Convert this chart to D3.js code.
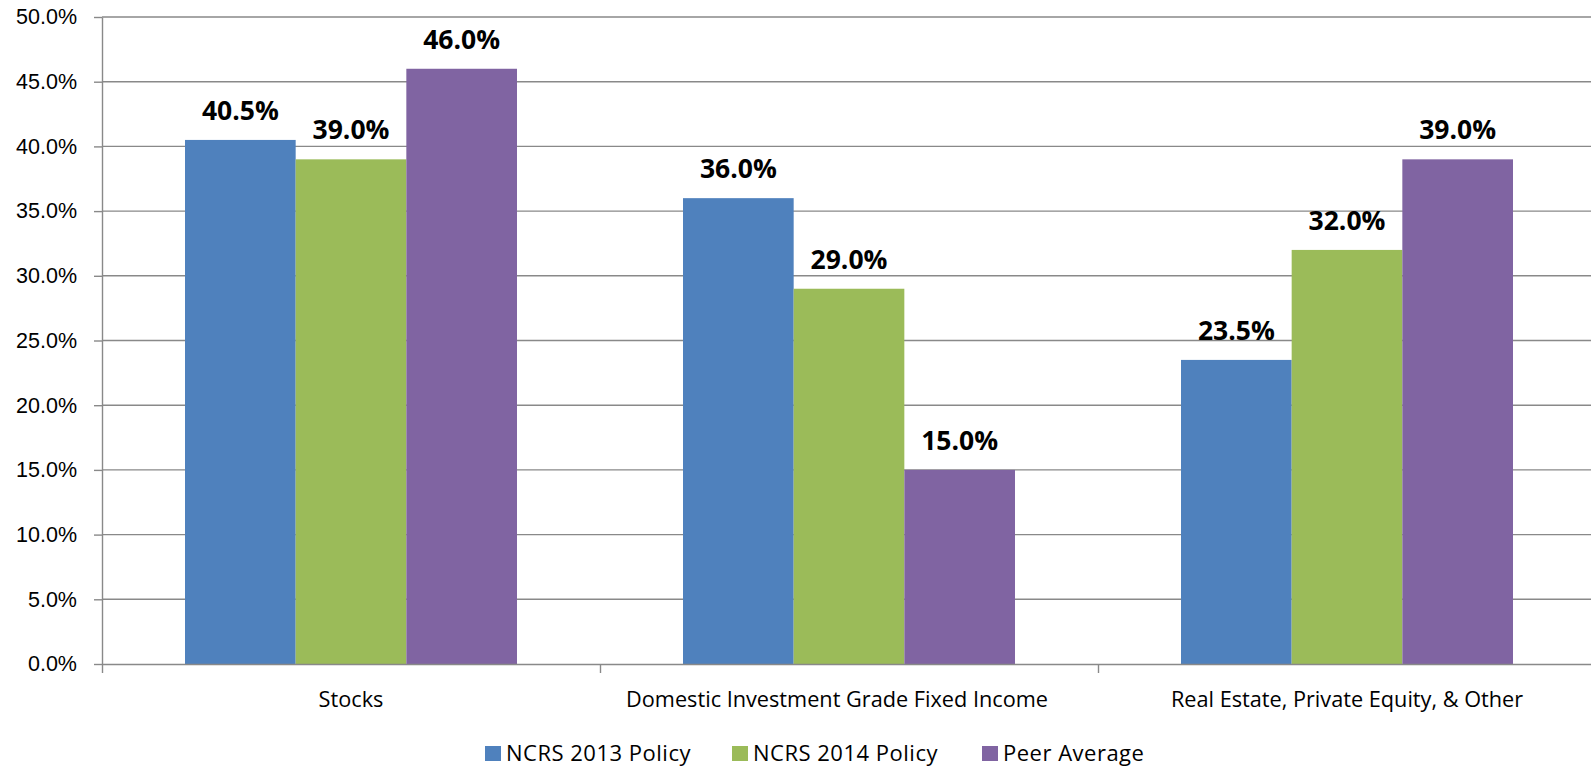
<!DOCTYPE html>
<html>
<head>
<meta charset="utf-8">
<script src="https://cdn.jsdelivr.net/npm/d3@7"></script>
<style>
  html, body { margin: 0; padding: 0; background: #fff; }
  svg { display: block; font-family: 'Open Sans', sans-serif; }
</style>
</head>
<body>
<script>
// Data
const categories = ['Stocks', 'Domestic Investment Grade Fixed Income', 'Real Estate, Private Equity, & Other']
const seriesNames = ['NCRS 2013 Policy', 'NCRS 2014 Policy', 'Peer Average']
const seriesColors = ['#4F81BD', '#9BBB59', '#8064A2']
const policy2013 = [40.5, 36.0, 23.5]
const policy2014 = [39.0, 29.0, 32.0]
const peerAverage = [46.0, 15.0, 39.0]
const yTicks = [0, 5, 10, 15, 20, 25, 30, 35, 40, 45, 50]

const seriesValues = [policy2013, policy2014, peerAverage]

const width = 1591
const height = 768
const margins = { left: 102, right: -5, top: 17, bottom: 104 }
const gridColor = '#898989'

const svg = d3.select('body').append('svg')
  .attr('width', width)
  .attr('height', height)
  .attr('viewBox', [0, 0, width, height].join(' '))

// Scales
const x0 = d3.scaleBand()
  .domain(categories)
  .range([margins.left, width - margins.right])
  .paddingInner(1 / 3)
  .paddingOuter(1 / 6)

const x1 = d3.scaleBand()
  .domain(seriesNames)
  .range([0, x0.bandwidth()])

const xBounds = d3.scaleLinear()
  .domain([0, categories.length])
  .range([margins.left, width - margins.right])

const y = d3.scaleLinear()
  .domain([0, 50])
  .range([height - margins.bottom, margins.top])

// Gridlines
svg.append('g')
  .selectAll('line')
  .data(yTicks.filter(t => t > 0))
  .enter().append('line')
  .attr('x1', margins.left)
  .attr('x2', width)
  .attr('y1', d => y(d))
  .attr('y2', d => y(d))
  .attr('stroke', gridColor)
  .attr('stroke-width', 1.4)

// Y axis
const yAxis = svg.append('g')
  .attr('transform', `translate(${margins.left}, 0)`)
  .call(d3.axisLeft(y).tickValues(yTicks).tickSize(8).tickSizeOuter(0).tickPadding(17).tickFormat(d => d.toFixed(1) + '%'))
yAxis.select('.domain').attr('stroke', gridColor).attr('stroke-width', 1.4)
yAxis.selectAll('.tick line').attr('stroke', gridColor).attr('stroke-width', 1.4)
yAxis.selectAll('.tick text').attr('fill', '#000').style('font-size', '21.5px')

// Bars
const groups = svg.append('g')
  .selectAll('g')
  .data(categories)
  .enter().append('g')
  .attr('transform', d => `translate(${x0(d)}, 0)`)

groups.selectAll('rect')
  .data((d, i) => seriesNames.map((s, j) => ({ series: s, value: seriesValues[j][i], color: seriesColors[j] })))
  .enter().append('rect')
  .attr('x', d => x1(d.series))
  .attr('width', x1.bandwidth())
  .attr('y', d => y(d.value))
  .attr('height', d => y(0) - y(d.value))
  .attr('fill', d => d.color)

groups.selectAll('text')
  .data((d, i) => seriesNames.map((s, j) => ({ series: s, value: seriesValues[j][i] })))
  .enter().append('text')
  .attr('x', d => x1(d.series) + x1.bandwidth() / 2)
  .attr('y', d => y(d.value) - 20)
  .attr('text-anchor', 'middle')
  .attr('font-weight', 'bold')
  .style('font-size', '26.5px')
  .attr('fill', '#000')
  .text(d => d.value.toFixed(1) + '%')

// X axis
const xAxis = svg.append('g')
  .attr('transform', `translate(0, ${y(0)})`)
  .call(d3.axisBottom(xBounds).tickValues(d3.range(categories.length)).tickSize(9).tickSizeOuter(0).tickFormat(''))
xAxis.select('.domain').attr('stroke', gridColor).attr('stroke-width', 1.4)
xAxis.selectAll('.tick line').attr('stroke', gridColor).attr('stroke-width', 1.4)

// the long middle label sits a little left of its band in the original
svg.append('g')
  .selectAll('text')
  .data(categories)
  .enter().append('text')
  .attr('x', (d, i) => x0(d) + x0.bandwidth() / 2 + (i === 1 ? -12 : 0))
  .attr('y', 707)
  .attr('text-anchor', 'middle')
  .style('font-size', '21.7px')
  .attr('fill', '#000')
  .text(d => d)

// Legend
const legendX = [485, 732, 982]
const legend = svg.append('g')
  .selectAll('g')
  .data(seriesNames)
  .enter().append('g')
  .attr('transform', (d, i) => `translate(${legendX[i]}, 746)`)

legend.append('rect')
  .attr('width', 16)
  .attr('height', 15)
  .attr('fill', (d, i) => seriesColors[i])

legend.append('text')
  .attr('x', 21)
  .attr('y', 15)
  .style('font-size', '22px')
  .style('letter-spacing', '0.5px')
  .attr('fill', '#000')
  .text(d => d)
</script>
</body>
</html>
